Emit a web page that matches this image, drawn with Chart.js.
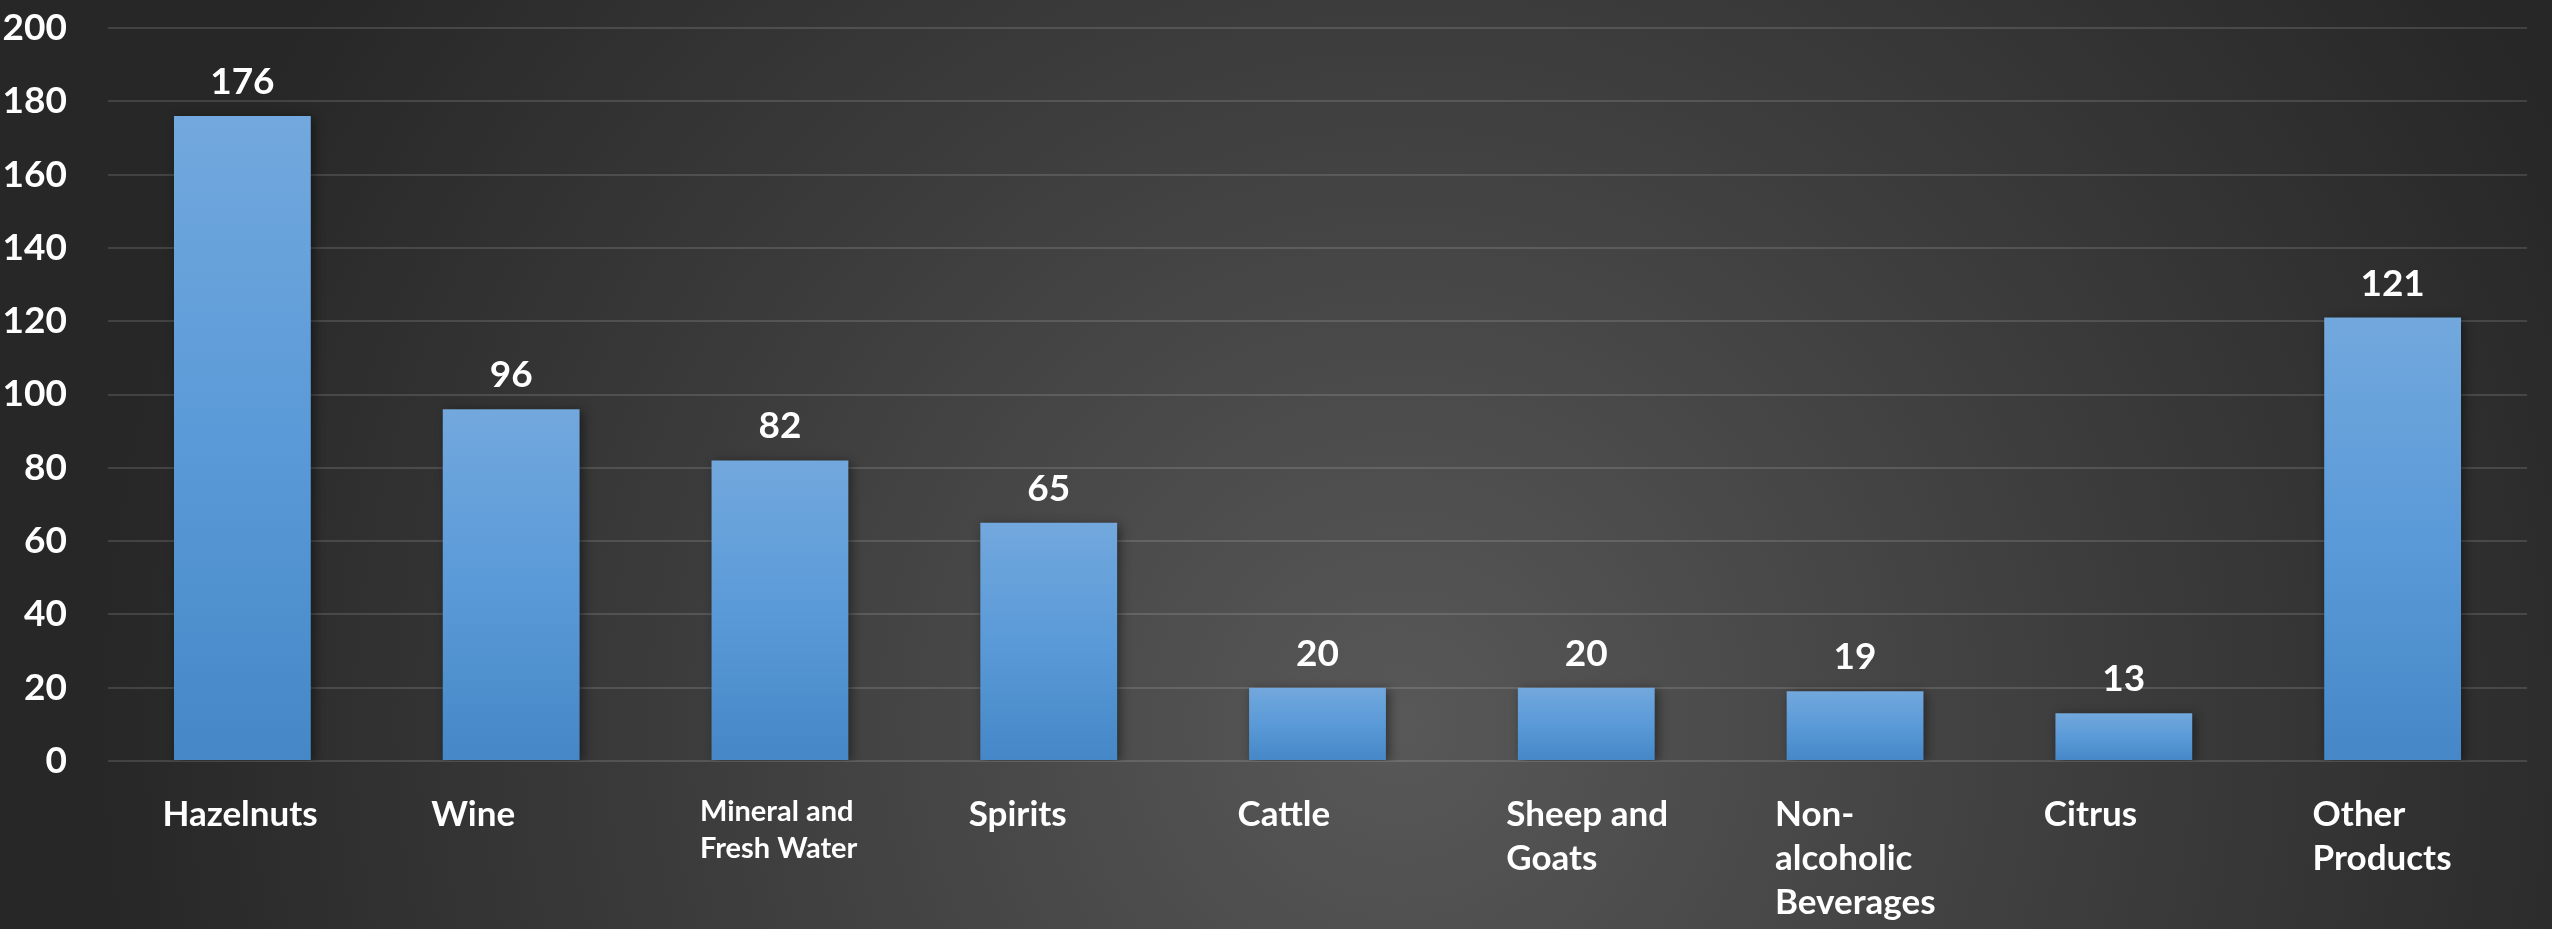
<!DOCTYPE html>
<html>
<head>
<meta charset="utf-8">
<title>Products</title>
<script src="https://cdn.jsdelivr.net/npm/chart.js@4/dist/chart.umd.min.js"></script>
<style>
  html, body { margin: 0; padding: 0; }
  body {
    width: 2552px;
    height: 929px;
    overflow: hidden;
    background: radial-gradient(circle 1300px at 1400px 725px, #585858 0%, #3c3c3c 55%, #272727 100%);
    background-color: #262626;
  }
  #wrap { position: relative; width: 2552px; height: 929px; }
</style>
</head>
<body>
<div id="wrap"><canvas id="chart"></canvas></div>
<script>
const categories = [
  "Hazelnuts",
  "Wine",
  ["Mineral and", "Fresh Water"],
  "Spirits",
  "Cattle",
  ["Sheep and", "Goats"],
  ["Non-", "alcoholic", "Beverages"],
  "Citrus",
  ["Other", "Products"]
];
const values = [176, 96, 82, 65, 20, 20, 19, 13, 121];
const yMin = 0;
const yMax = 200;
const yStep = 20;

const FONT = "Lato, 'Open Sans', sans-serif";

// value printed above each bar
const valueLabels = {
  id: "valueLabels",
  afterDatasetsDraw(chart) {
    const ctx = chart.ctx;
    const meta = chart.getDatasetMeta(0);
    ctx.save();
    ctx.fillStyle = "#ffffff";
    ctx.font = "bold 37px " + FONT;
    ctx.textAlign = "center";
    ctx.textBaseline = "alphabetic";
    meta.data.forEach(function (bar, i) {
      ctx.fillText(values[i], bar.x, bar.y - 22);
    });
    ctx.restore();
  }
};

// soft drop shadow under the bars
const barShadow = {
  id: "barShadow",
  beforeDatasetDraw(chart) {
    const ctx = chart.ctx;
    ctx.save();
    ctx.shadowColor = "rgba(0, 0, 0, 0.45)";
    ctx.shadowBlur = 10;
    ctx.shadowOffsetX = 3;
    ctx.shadowOffsetY = 2;
  },
  afterDatasetDraw(chart) {
    chart.ctx.restore();
  }
};

function barGradient(c) {
  const chart = c.chart;
  if (!chart.chartArea || c.dataIndex === undefined) return "#5b9bd5";
  const y = chart.scales.y;
  const top = y.getPixelForValue(values[c.dataIndex]);
  const bottom = y.getPixelForValue(0);
  const g = chart.ctx.createLinearGradient(0, top, 0, bottom);
  g.addColorStop(0, "#72a8dd");
  g.addColorStop(0.5, "#5a9ad8");
  g.addColorStop(1, "#4587c7");
  return g;
}

const ctx = document.getElementById("chart").getContext("2d");
const myChart = new Chart(ctx, {
  type: "bar",
  data: {
    labels: categories,
    datasets: [
      {
        data: values,
        backgroundColor: barGradient,
        borderWidth: 0,
        categoryPercentage: 1,
        barPercentage: 0.509
      }
    ]
  },
  options: {
    responsive: true,
    maintainAspectRatio: false,
    animation: false,
    layout: { padding: { top: 28, right: 25, left: 0, bottom: 0 } },
    plugins: {
      legend: { display: false },
      tooltip: { enabled: false }
    },
    scales: {
      x: {
        grid: { display: false, drawTicks: false },
        border: { display: false },
        afterFit: function (scale) {
          scale.height = 168;
          scale.paddingLeft = 0;
          scale.paddingRight = 0;
        },
        ticks: {
          color: "#ffffff",
          autoSkip: false,
          maxRotation: 0,
          minRotation: 0,
          align: "start",
          labelOffset: -80,
          padding: 32,
          font: function (c) {
            if (c.index === 2) return { family: FONT, weight: "bold", size: 29, lineHeight: 1.28 };
            return { family: FONT, weight: "bold", size: 35, lineHeight: 1.25 };
          }
        }
      },
      y: {
        min: yMin,
        max: yMax,
        grid: { color: "rgba(255, 255, 255, 0.13)", lineWidth: 2, drawTicks: false },
        border: { display: false },
        afterFit: function (scale) {
          scale.width = 108;
          scale.paddingTop = 0;
          scale.paddingBottom = 0;
        },
        ticks: {
          stepSize: yStep,
          color: "#ffffff",
          padding: 41,
          font: { family: FONT, weight: "bold", size: 37 }
        }
      }
    }
  },
  plugins: [barShadow, valueLabels]
});
</script>
</body>
</html>
